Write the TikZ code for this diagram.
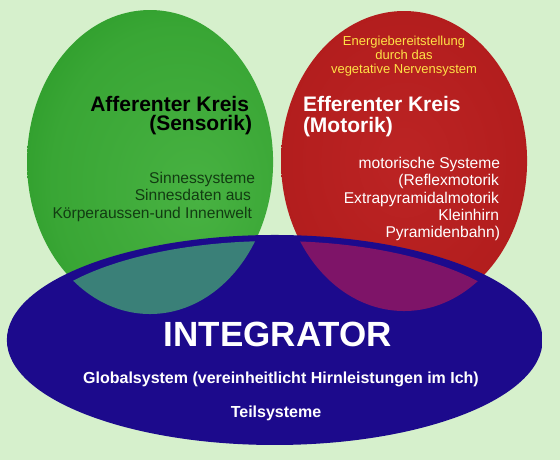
\documentclass[tikz,border=0pt]{standalone}
\usepackage{fontspec}
\setmainfont{Liberation Sans}
\usetikzlibrary{fadings}

\definecolor{bg}{HTML}{D6F0CC}
\definecolor{gIn}{HTML}{48B242}
\definecolor{gOut}{HTML}{168A16}
\definecolor{rIn}{HTML}{BC2424}
\definecolor{rOut}{HTML}{A01010}
\definecolor{bIn}{HTML}{1C0A8C}
\definecolor{bRim}{HTML}{1818D8}
\definecolor{tealmix}{HTML}{3A8078}
\definecolor{purplemix}{HTML}{7E1468}
\definecolor{sinnes}{HTML}{123C12}
\definecolor{energie}{HTML}{FFE246}

\pgfdeclareradialshading{softmask}{\pgfpoint{0bp}{0bp}}{color(0bp)=(white); color(47bp)=(white); color(50bp)=(black)}
\pgfdeclarefading{soft}{\pgfuseshading{softmask}}

\pgfdeclareradialshading{greenshade}{\pgfpoint{10bp}{-6bp}}{color(0bp)=(gIn); color(25bp)=(gIn!70!gOut); color(50bp)=(gOut)}
\pgfdeclareradialshading{redshade}{\pgfpoint{0bp}{0bp}}{color(0bp)=(rIn); color(30bp)=(rIn!60!rOut); color(50bp)=(rOut)}
\pgfdeclareradialshading{blueshade}{\pgfpoint{0bp}{0bp}}{color(0bp)=(bIn); color(44.5bp)=(bIn); color(47.5bp)=(bRim); color(50bp)=(bRim)}

\tikzset{
  lbl/.style={inner sep=0pt, outer sep=0pt},
  headtxt/.style={lbl, font=\bfseries\fontsize{21}{21}\selectfont},
  bodytxt/.style={lbl, font=\fontsize{15.6}{17.5}\selectfont},
  smalltxt/.style={lbl, font=\fontsize{13}{14}\selectfont, text=energie, anchor=base},
  integtxt/.style={lbl, font=\bfseries\fontsize{16}{18}\selectfont, text=white, anchor=base},
}

\begin{document}
\begin{tikzpicture}[x=1pt,y=-1pt]
\useasboundingbox (0,0) rectangle (560,460);
\fill[bg] (0,0) rectangle (560,460);

\coordinate (gc) at (150,162);
\coordinate (rc) at (404,161);
\coordinate (bc) at (275,340);

% green circle
\shade[shading=greenshade, path fading=soft] (gc) ellipse [x radius=123pt, y radius=152pt];
% red circle
\shade[shading=redshade, path fading=soft] (rc) ellipse [x radius=123pt, y radius=150pt];
% blue ellipse
\shade[shading=blueshade, path fading=soft] (bc) ellipse [x radius=268pt, y radius=105pt];

% overlaps
\begin{scope}
  \clip (bc) ellipse [x radius=252pt, y radius=99pt];
  \fill[tealmix, path fading=soft] (gc) ellipse [x radius=123pt, y radius=152pt];
  \fill[purplemix, path fading=soft] (rc) ellipse [x radius=123pt, y radius=150pt];
\end{scope}

% top texts
\node[smalltxt] (e1) at (404,46) {Energiebereitstellung};
\node[smalltxt] (e2) at (404,59.5) {durch das};
\node[smalltxt] (e3) at (404,73.5) {vegetative Nervensystem};

\node[headtxt, anchor=base east, text=black] (a1) at (249,111) {Afferenter Kreis};
\node[headtxt, anchor=base east, text=black] (a2) at (252,131) {(Sensorik)};

\node[bodytxt, anchor=base east, text=sinnes] (s1) at (255,183) {Sinnessysteme};
\node[bodytxt, anchor=base east, text=sinnes] (s2) at (251,200.5) {Sinnesdaten aus};
\node[bodytxt, anchor=base east, text=sinnes] (s3) at (252,218) {Körperaussen-und Innenwelt};

\node[headtxt, anchor=base west, text=white] (f1) at (303,111) {Efferenter Kreis};
\node[headtxt, anchor=base west, text=white] (f2) at (303,132) {(Motorik)};

\node[bodytxt, anchor=base east, text=white] (m1) at (500,168) {motorische Systeme};
\node[bodytxt, anchor=base east, text=white] (m2) at (499,185.5) {(Reflexmotorik};
\node[bodytxt, anchor=base east, text=white] (m3) at (499,203) {Extrapyramidalmotorik};
\node[bodytxt, anchor=base east, text=white] (m4) at (499,220.5) {Kleinhirn};
\node[bodytxt, anchor=base east, text=white] (m5) at (500,237.5) {Pyramidenbahn)};

\node[lbl, anchor=base, text=white, font=\bfseries\fontsize{35}{35}\selectfont] (integ) at (278,346) {INTEGRATOR};
\node[integtxt] (g1) at (281,383) {Globalsystem (vereinheitlicht Hirnleistungen im Ich)};
\node[integtxt] (g2) at (276,417) {Teilsysteme};
\end{tikzpicture}
\end{document}
